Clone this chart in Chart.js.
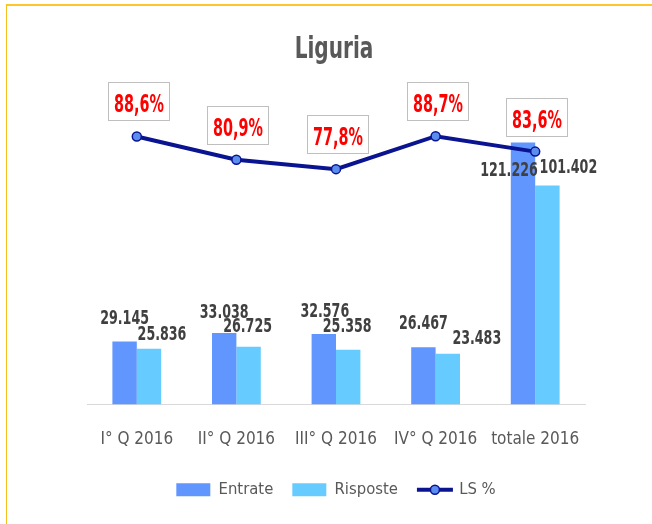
<!DOCTYPE html>
<html>
<head>
<meta charset="utf-8">
<script src="https://cdn.jsdelivr.net/npm/chart.js@4.4.1/dist/chart.umd.min.js"></script>
<style>
  html, body { margin: 0; padding: 0; background: #fff; overflow: hidden; }
  #wrap { position: relative; width: 652px; height: 524px; }
  #grafico { position: absolute; left: 0; top: 0; }
  #cornice { position: absolute; left: 6px; top: 4px; width: 700px; height: 600px; box-sizing: border-box;
             border-top: 2px solid #FFC629; border-left: 1px solid #F6BE1E; pointer-events: none; }
</style>
</head>
<body>
<div id="wrap">
  <canvas id="grafico" width="652" height="524"></canvas>
  <div id="cornice"></div>
</div>
<script>
const titolo = "Liguria";
const categorie = ["I° Q 2016", "II° Q 2016", "III° Q 2016", "IV° Q 2016", "totale 2016"];
const entrate = [29145, 33038, 32576, 26467, 121226];
const risposte = [25836, 26725, 25358, 23483, 101402];
const lsPercentuale = [88.6, 80.9, 77.8, 88.7, 83.6];

// spostamenti manuali delle etichette (come nel grafico excel), centro testo rispetto alla cima della barra
const spostEntrate = [[0, -25], [0, -22], [1, -24], [0, -25], [-14, 26]];
const spostRisposte = [[13, -16], [-1, -22], [-1, -25], [29, -17], [21, -19]];

const famiglia = "'DejaVu Sans Condensed', 'DejaVu Sans', sans-serif";
const grigio = "#595959";

function formatoNumero(v) {
  return String(v).replace(/\B(?=(\d{3})+(?!\d))/g, ".");
}
function formatoPerc(v) {
  return v.toFixed(1).replace(".", ",") + "%";
}

// testo stretto, come il Calibri del grafico originale
function testoStretto(ctx, testo, x, y, scalaX) {
  ctx.save();
  ctx.translate(x, y);
  ctx.scale(scalaX, 1);
  ctx.fillText(testo, 0, 0);
  ctx.restore();
}

const etichette = {
  id: "etichette",
  afterDatasetsDraw(chart) {
    const ctx = chart.ctx;
    ctx.save();
    ctx.textAlign = "center";
    ctx.textBaseline = "alphabetic";
    ctx.font = "bold 19px " + famiglia;
    ctx.fillStyle = "#404040";
    [[0, spostEntrate], [1, spostRisposte]].forEach(([idx, spost]) => {
      chart.getDatasetMeta(idx).data.forEach((barra, i) => {
        const valore = chart.data.datasets[idx].data[i];
        testoStretto(ctx, formatoNumero(valore), barra.x + spost[i][0], barra.y + spost[i][1] + 7, 0.74);
      });
    });

    ctx.font = "bold 25px " + famiglia;
    chart.getDatasetMeta(2).data.forEach((punto, i) => {
      const cx = Math.round(punto.x + 2), cy = Math.round(punto.y - 35);
      ctx.fillStyle = "#ffffff";
      ctx.fillRect(cx - 31, cy - 19, 62, 39);
      ctx.strokeStyle = "#BFBFBF";
      ctx.lineWidth = 1;
      ctx.strokeRect(cx - 30.5, cy - 18.5, 61, 38);
      ctx.fillStyle = "#FF0000";
      testoStretto(ctx, formatoPerc(chart.data.datasets[2].data[i]), cx, cy + 11, 0.64);
    });
    ctx.restore();
  },
  afterDraw(chart) {
    const ctx = chart.ctx;
    ctx.save();
    // titolo
    ctx.textAlign = "center";
    ctx.textBaseline = "alphabetic";
    ctx.font = "bold 31px " + famiglia;
    ctx.fillStyle = grigio;
    testoStretto(ctx, titolo, 334, 58, 0.72);

    // simbolo linea + punto nella legenda
    const box = chart.legend.legendHitBoxes[2];
    if (box) {
      const y = box.top + box.height / 2;
      ctx.strokeStyle = "#0A1490";
      ctx.lineWidth = 4;
      ctx.beginPath();
      ctx.moveTo(box.left, y);
      ctx.lineTo(box.left + 36, y);
      ctx.stroke();
      ctx.beginPath();
      ctx.arc(box.left + 18, y, 4.5, 0, Math.PI * 2);
      ctx.fillStyle = "#5B8DEF";
      ctx.fill();
      ctx.lineWidth = 1.5;
      ctx.stroke();
    }
    ctx.restore();
  }
};

const ctx = document.getElementById("grafico").getContext("2d");

new Chart(ctx, {
  data: {
    labels: categorie,
    datasets: [
      {
        type: "bar",
        label: "Entrate",
        data: entrate,
        backgroundColor: "#6196FF",
        yAxisID: "y",
        order: 1,
        categoryPercentage: 0.49,
        barPercentage: 1
      },
      {
        type: "bar",
        label: "Risposte",
        data: risposte,
        backgroundColor: "#66CCFF",
        yAxisID: "y",
        order: 1,
        categoryPercentage: 0.49,
        barPercentage: 1
      },
      {
        type: "line",
        label: "LS %",
        data: lsPercentuale,
        borderColor: "#0A1490",
        borderWidth: 4,
        pointRadius: 4.5,
        pointBackgroundColor: "#5B8DEF",
        pointBorderColor: "#0A1490",
        pointBorderWidth: 1.5,
        tension: 0,
        yAxisID: "y2",
        order: 0
      }
    ]
  },
  options: {
    responsive: false,
    animation: false,
    layout: {
      padding: { left: 87, right: 67, top: 102, bottom: 16 }
    },
    scales: {
      x: {
        grid: { display: false, drawTicks: false },
        border: { display: true, color: "#D9D9D9", width: 1 },
        ticks: {
          color: grigio,
          font: { family: famiglia, size: 17 },
          padding: 25,
          maxRotation: 0,
          autoSkip: false
        },
        afterFit(scala) {
          scala.height = 58;
        }
      },
      y: { display: false, min: 0, max: 140000 },
      y2: { display: false, min: 0, max: 100 }
    },
    plugins: {
      title: { display: false },
      legend: {
        position: "bottom",
        labels: {
          color: grigio,
          font: { family: famiglia, size: 16.5 },
          boxWidth: 34,
          boxHeight: 13,
          padding: 19,
          generateLabels(chart) {
            return chart.data.datasets.map((ds, i) => ({
              text: ds.label,
              fillStyle: ds.type === "line" ? "rgba(0,0,0,0)" : ds.backgroundColor,
              strokeStyle: "rgba(0,0,0,0)",
              lineWidth: 0,
              fontColor: grigio,
              datasetIndex: i,
              hidden: false
            }));
          }
        }
      },
      tooltip: { enabled: false }
    }
  },
  plugins: [etichette]
});
</script>
</body>
</html>
